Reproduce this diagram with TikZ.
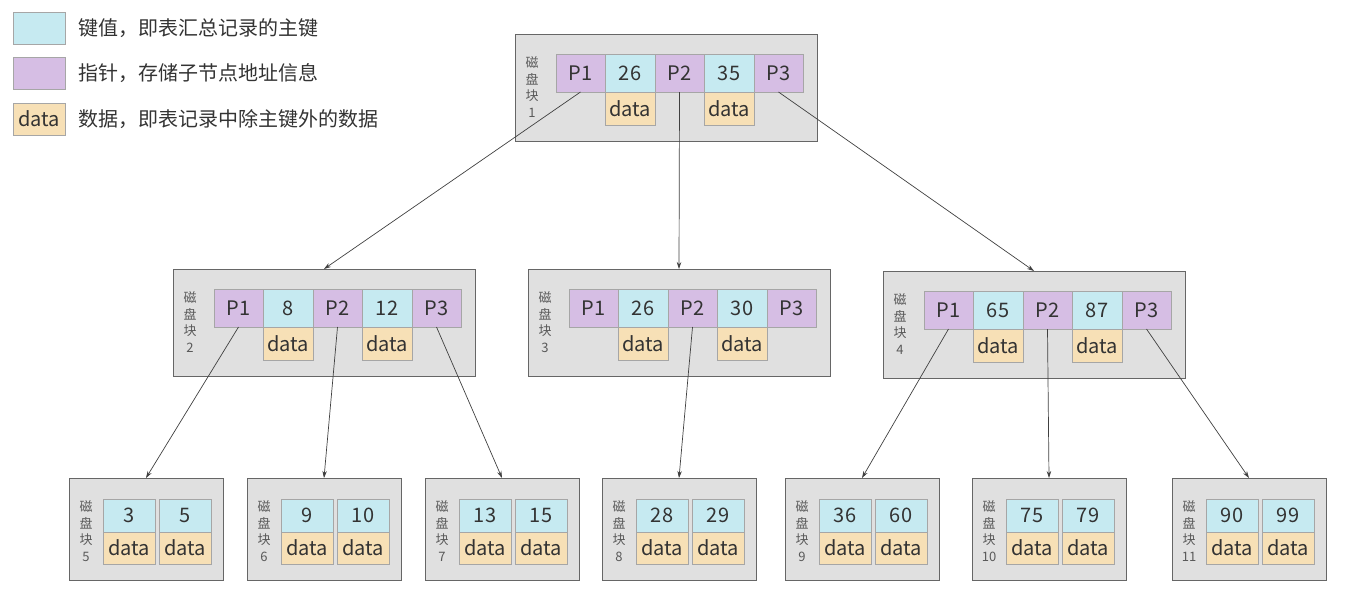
\documentclass[tikz,border=0pt]{standalone}
\usepackage{fontspec}
\setmainfont{Noto Sans CJK SC}
\usetikzlibrary{positioning,arrows.meta}
\definecolor{keyblue}{RGB}{198,234,241}
\definecolor{ptrpurple}{RGB}{214,190,228}
\definecolor{datatan}{RGB}{247,224,182}
\definecolor{blockgray}{RGB}{224,224,224}
\definecolor{inkgray}{RGB}{51,51,51}
\tikzset{
  cell/.style={draw=black!35, line width=0.6pt, inner sep=0pt, outer sep=0pt, text=inkgray, font=\fontsize{20}{20}\selectfont},
  keycell/.style={cell, fill=keyblue, minimum width=50pt, minimum height=38pt},
  ptrcell/.style={cell, fill=ptrpurple, minimum width=49pt, minimum height=38pt},
  datacell/.style={cell, fill=datatan, minimum width=50pt, minimum height=33pt},
  leafkey/.style={keycell, minimum width=52pt, minimum height=33pt},
  leafdata/.style={datacell, minimum width=52pt, minimum height=32pt},
  blockbox/.style={draw=black!60, fill=blockgray, line width=0.9pt, inner sep=0pt, outer sep=0pt, anchor=north west},
  blocklabel/.style={align=center, text=black!65, font=\fontsize{13}{16.5}\selectfont, inner sep=0pt},
  legendtext/.style={text=inkgray, font=\fontsize{20}{20}\selectfont, inner sep=0pt},
  link/.style={draw=black!75, line width=0.7pt, -{Stealth[length=7pt,width=4.5pt]}}
}
\begin{document}
\begin{tikzpicture}[x=1pt, y=-1pt]
    \useasboundingbox (0,0) rectangle (1346,598);
    % legend
    \node[keycell, minimum width=52pt, minimum height=32pt, anchor=north west] (leg-key) at (13,12) {};
    \node[legendtext, right=13pt of leg-key] (leg-key-text) {键值，即表汇总记录的主键};
    \node[ptrcell, minimum width=52pt, minimum height=32pt, anchor=north west] (leg-ptr) at (13,57) {};
    \node[legendtext, right=13pt of leg-ptr] (leg-ptr-text) {指针，存储子节点地址信息};
    \node[datacell, minimum width=52pt, minimum height=32pt, anchor=north west] (leg-data) at (13,103) {data};
    \node[legendtext, right=13pt of leg-data] (leg-data-text) {数据，即表记录中除主键外的数据};

    % blocks with pointers
    \foreach \n/\x/\y/\ka/\kb in {1/515/34/26/35, 2/173/269/8/12, 3/528/269/26/30, 4/883/271/65/87} {
      \node[blockbox, minimum width=302pt, minimum height=107pt] (b\n) at (\x,\y) {};
      \node[blocklabel] (b\n-lab) at (\x+17,\y+53) {磁\\盘\\块\\ \n};
      \node[ptrcell, anchor=north west] (b\n-p1) at (\x+41,\y+20) {P1};
      \node[keycell, right=0pt of b\n-p1] (b\n-k1) {\ka};
      \node[ptrcell, right=0pt of b\n-k1] (b\n-p2) {P2};
      \node[keycell, right=0pt of b\n-p2] (b\n-k2) {\kb};
      \node[ptrcell, right=0pt of b\n-k2] (b\n-p3) {P3};
      \node[datacell, below=0pt of b\n-k1] (b\n-d1) {data};
      \node[datacell, below=0pt of b\n-k2] (b\n-d2) {data};
    }

    % leaf blocks
    \foreach \n/\x/\ka/\kb in {5/69/3/5, 6/247/9/10, 7/425/13/15, 8/602/28/29, 9/785/36/60, 10/972/75/79, 11/1172/90/99} {
      \node[blockbox, minimum width=154pt, minimum height=102pt] (b\n) at (\x,478) {};
      \node[blocklabel] (b\n-lab) at (\x+17,531) {磁\\盘\\块\\ \n};
      \node[leafkey, anchor=north west] (b\n-k1) at (\x+34,499) {\ka};
      \node[leafkey, right=4pt of b\n-k1] (b\n-k2) {\kb};
      \node[leafdata, below=0pt of b\n-k1] (b\n-d1) {data};
      \node[leafdata, below=0pt of b\n-k2] (b\n-d2) {data};
    }

    \foreach \from/\to in {b1-p1/b2, b1-p2/b3, b1-p3/b4, b2-p1/b5, b2-p2/b6, b2-p3/b7, b3-p2/b8, b4-p1/b9, b4-p2/b10, b4-p3/b11}
      \path[link] (\from.south) -- (\to.north);
  \end{tikzpicture}
\end{document}
